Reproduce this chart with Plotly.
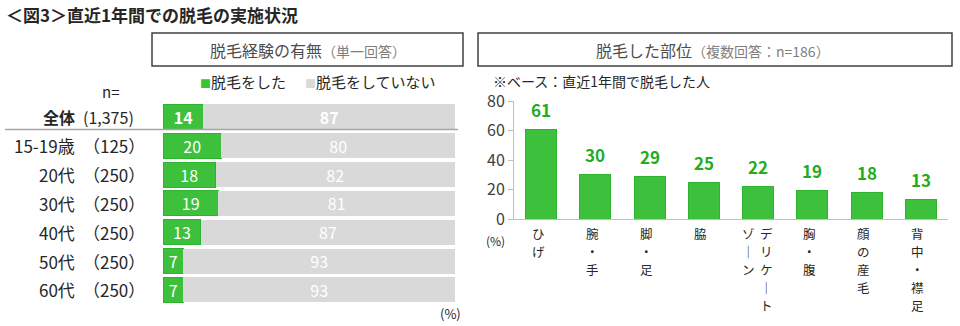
import plotly.graph_objects as go

W, H = 960, 326


def px(x):
    return x / W


def py(y):
    return 1 - y / H


# ---------------- data ----------------
title = "＜図3＞直近1年間での脱毛の実施状況"
left_header = "脱毛経験の有無"
left_header_note = "（単一回答）"
right_header = "脱毛した部位"
right_header_note = "（複数回答：n=186）"
right_base_note = "※ベース：直近1年間で脱毛した人"

groups = ["全体", "15-19歳", "20代", "30代", "40代", "50代", "60代"]
group_n = ["(1,375)", "（125）", "（250）", "（250）", "（250）", "（250）", "（250）"]
did = [14, 20, 18, 19, 13, 7, 7]
did_not = [87, 80, 82, 81, 87, 93, 93]
series_names = ["脱毛をした", "脱毛をしていない"]

parts = ["ひげ", "腕・手", "脚・足", "脇", "デリケートゾーン", "胸・腹", "顔の産毛", "背中・襟足"]
part_columns = [["ひげ"], ["腕・手"], ["脚・足"], ["脇"], ["デリケート", "ゾーン"],
                ["胸・腹"], ["顔の産毛"], ["背中・襟足"]]
part_values = [61, 30, 29, 25, 22, 19, 18, 13]
y_ticks = [0, 20, 40, 60, 80]

# ---------------- styles ----------------
FONT = "Noto Sans CJK JP"
GREEN = "#3DC13D"
GREEN_EDGE = "#2DB32D"
GREEN_TEXT = "#1EAD1E"
GRAY = "#D9D9D9"
TXT = "#262626"
AXIS = "#BFBFBF"

fig = go.Figure()

# shares so every row spans the full width
tot = [a + b for a, b in zip(did, did_not)]
did_share = [a / t * 100 for a, t in zip(did, tot)]
not_share = [b / t * 100 for b, t in zip(did_not, tot)]

bar_font = dict(color="white", size=16, family=FONT)
fig.add_trace(go.Bar(
    y=groups, x=did_share, orientation="h", name=series_names[0],
    marker=dict(color=GREEN, line=dict(color=GREEN_EDGE, width=1)),
    text=[f"<b>{v}</b>" if i == 0 else str(v) for i, v in enumerate(did)],
    texttemplate="%{text}", textposition="inside", insidetextanchor="middle",
    textangle=0, textfont=bar_font, insidetextfont=bar_font, constraintext="none",
    xaxis="x", yaxis="y", showlegend=False, hoverinfo="skip",
))
fig.add_trace(go.Bar(
    y=groups, x=not_share, orientation="h", name=series_names[1],
    marker=dict(color=GRAY, line=dict(width=0)),
    text=[f"<b>{v}</b>" if i == 0 else str(v) for i, v in enumerate(did_not)],
    texttemplate="%{text}", textposition="inside", insidetextanchor="middle",
    textangle=0, textfont=bar_font, insidetextfont=bar_font, constraintext="none",
    xaxis="x", yaxis="y", showlegend=False, hoverinfo="skip",
))

fig.add_trace(go.Bar(
    x=parts, y=part_values, width=0.57,
    marker=dict(color=GREEN, line=dict(color=GREEN_EDGE, width=1)),
    xaxis="x2", yaxis="y2", showlegend=False, hoverinfo="skip",
))

ann = []
shapes = []

# title
ann.append(dict(text=f"<b>{title}</b>", x=px(4), y=py(15), xanchor="left", yanchor="middle",
                font=dict(size=17, color=TXT)))

# header boxes
shapes.append(dict(type="rect", xref="paper", yref="paper", x0=px(152), x1=px(463),
                   y0=py(66), y1=py(33), line=dict(color="#404040", width=1.5)))
shapes.append(dict(type="rect", xref="paper", yref="paper", x0=px(478), x1=px(952),
                   y0=py(66), y1=py(33), line=dict(color="#404040", width=1.5)))
ann.append(dict(text=f"{left_header}<span style='font-size:14px;color:#7F7F7F'>{left_header_note}</span>",
                x=px(307.5), y=py(50), xanchor="center", yanchor="middle",
                font=dict(size=16, color="#4D4D4D")))
ann.append(dict(text=f"{right_header}<span style='font-size:14px;color:#7F7F7F'>{right_header_note}</span>",
                x=px(713), y=py(50), xanchor="center", yanchor="middle",
                font=dict(size=16, color="#4D4D4D")))

# legend
ann.append(dict(text=f"<span style='color:{GREEN};font-size:11px'>■</span>{series_names[0]}",
                x=px(198), y=py(81), xanchor="left", yanchor="middle",
                font=dict(size=15, color=TXT)))
ann.append(dict(text=f"<span style='color:{GRAY};font-size:11px'>■</span>{series_names[1]}",
                x=px(303), y=py(81), xanchor="left", yanchor="middle",
                font=dict(size=15, color=TXT)))

# n=
ann.append(dict(text="n=", x=px(110), y=py(92), xanchor="center", yanchor="middle",
                font=dict(size=15, color=TXT)))

# row labels
for i, (g, n) in enumerate(zip(groups, group_n)):
    gtxt = f"<b>{g}</b>" if i == 0 else g
    ann.append(dict(text=gtxt, x=px(77), xref="paper", y=g, yref="y", xanchor="right",
                    yanchor="middle", font=dict(size=16 if i == 0 else 17, color=TXT)))
    ann.append(dict(text=n, x=px(81), xref="paper", y=g, yref="y", xanchor="left",
                    yanchor="middle", font=dict(size=16 if i == 0 else 17, color=TXT)))

# separator line under 全体
shapes.append(dict(type="line", xref="paper", yref="paper", x0=px(5), x1=px(458),
                   y0=py(129.5), y1=py(129.5), line=dict(color="#A6A6A6", width=1.5)))

# (%) notes
ann.append(dict(text="(%)", x=px(450), y=py(313), xanchor="center", yanchor="middle",
                font=dict(size=13, color=TXT)))
ann.append(dict(text="(%)", x=px(495), y=py(240), xanchor="center", yanchor="middle",
                font=dict(size=12, color=TXT), borderpad=0))

# base note
ann.append(dict(text=right_base_note, x=px(491), y=py(81), xanchor="left", yanchor="middle",
                font=dict(size=14, color=TXT)))

# value labels on right bars
for p, v in zip(parts, part_values):
    ann.append(dict(text=f"<b>{v}</b>", x=p, y=v, xref="x2", yref="y2", xanchor="center",
                    yanchor="middle", yshift=20, font=dict(size=17, color=GREEN_TEXT)))

# vertical category labels (one annotation per character, stacked top to bottom)
v_size = 12.5
pitch = 18.2
for p, cols in zip(parts, part_columns):
    shifts = [-3] if len(cols) == 1 else [8, -10]
    for col, xs in zip(cols, shifts):
        for k, ch in enumerate(col):
            ch_v = "｜" if ch == "ー" else ch
            ann.append(dict(text=ch_v, x=p, xref="x2", y=py(233 + k * pitch), yref="paper",
                            xanchor="center", yanchor="middle", xshift=xs, borderpad=0,
                            font=dict(size=v_size, color=TXT)))

for a in ann:
    a.setdefault("xref", "paper")
    a.setdefault("yref", "paper")
    a["showarrow"] = False

fig.update_layout(
    width=W, height=H, autosize=False,
    margin=dict(l=0, r=0, t=0, b=0, pad=0, autoexpand=False),
    paper_bgcolor="white", plot_bgcolor="white",
    font=dict(family=FONT, color=TXT),
    barmode="stack", bargap=0.13,
    showlegend=False,
    annotations=ann, shapes=shapes,
    xaxis=dict(domain=[px(163), px(455)], range=[0, 100], visible=False, fixedrange=True,
               automargin=False),
    yaxis=dict(domain=[py(304.4), py(102.6)], categoryorder="array", categoryarray=groups,
               autorange="reversed", visible=False, fixedrange=True, automargin=False),
    xaxis2=dict(domain=[px(514), px(948)], anchor="y2", showticklabels=False, ticks="",
                showline=True, linecolor=AXIS, linewidth=1, showgrid=False, zeroline=False,
                categoryorder="array", categoryarray=parts, fixedrange=True, automargin=False),
    yaxis2=dict(domain=[py(219), py(101)], anchor="x2", range=[0, 80], tickvals=y_ticks,
                ticks="outside", ticklen=5, tickcolor=AXIS, showline=True, linecolor=AXIS,
                linewidth=1, showgrid=False, zeroline=False, automargin=False,
                tickfont=dict(size=16, color="#404040"), fixedrange=True),
)

fig.write_html("out.html", config={"displayModeBar": False})
